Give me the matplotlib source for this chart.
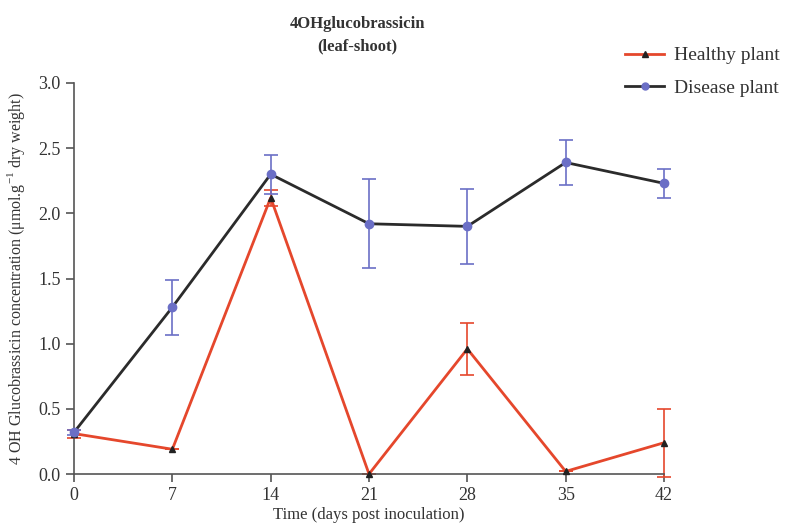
import matplotlib
matplotlib.use("Agg")
import matplotlib.pyplot as plt
from matplotlib.lines import Line2D

plt.rcParams['font.family'] = ['Liberation Serif', 'DejaVu Serif']

days = [0, 7, 14, 21, 28, 35, 42]
healthy = [0.31, 0.19, 2.12, 0.00, 0.96, 0.02, 0.24]
healthy_err = [0.03, 0.00, 0.06, 0.00, 0.20, 0.00, 0.26]
disease = [0.32, 1.28, 2.30, 1.92, 1.90, 2.39, 2.23]
disease_err = [0.02, 0.21, 0.15, 0.34, 0.29, 0.17, 0.11]

red = '#e5472c'
blue = '#6b6fc6'
dark = '#2b2b2b'
axis_col = '#555555'
text_col = '#333333'

fig = plt.figure(figsize=(8.03, 5.32), dpi=100)
ax = fig.add_axes([0.0922, 0.109, 0.7347, 0.735])

# Healthy plant: red line, dark triangle markers
ax.errorbar(days, healthy, yerr=healthy_err, fmt='none', ecolor=red,
            elinewidth=1.2, capsize=5, capthick=1.2, zorder=2)
ax.plot(days, healthy, color=red, lw=2.0, zorder=3)
ax.plot(days, healthy, ls='none', marker='^', ms=5, color='#222222', zorder=4)

# Disease plant: dark line, blue circle markers
ax.errorbar(days, disease, yerr=disease_err, fmt='none', ecolor=blue,
            elinewidth=1.2, capsize=5, capthick=1.2, zorder=2)
ax.plot(days, disease, color=dark, lw=2.0, zorder=3)
ax.plot(days, disease, ls='none', marker='o', ms=6, color=blue, zorder=4)

ax.set_xlim(0, 42)
ax.set_ylim(0, 3.0)
ax.set_xticks(days)
ax.set_yticks([0.0, 0.5, 1.0, 1.5, 2.0, 2.5, 3.0])
ax.set_yticklabels(['0.0', '0.5', '1.0', '1.5', '2.0', '2.5', '3.0'])
for a in ax.get_children():
    if hasattr(a, 'set_clip_on'):
        a.set_clip_on(False)

for side in ('top', 'right'):
    ax.spines[side].set_visible(False)
for side in ('left', 'bottom'):
    ax.spines[side].set_color(axis_col)
    ax.spines[side].set_linewidth(1.2)
ax.tick_params(axis='both', direction='out', length=6, width=1.2,
               color=axis_col, labelcolor=text_col, labelsize=13)

ax.set_xlabel('Time (days post inoculation)', fontsize=12, color=text_col, labelpad=2)
ax.set_ylabel(r'4 OH Glucobrassicin concentration ($\mathregular{\mu}$mol.g$^{\mathregular{-1}}$ dry weight)',
              fontsize=11.5, color=text_col, labelpad=8)

fig.text(0.445, 0.955, '4OHglucobrassicin', ha='center', va='center',
         fontsize=12, fontweight='bold', color=text_col)
fig.text(0.445, 0.912, '(leaf-shoot)', ha='center', va='center',
         fontsize=12, fontweight='bold', color=text_col)

handles = [
    Line2D([], [], color=red, lw=2, marker='^', ms=5, markerfacecolor='#222222',
           markeredgecolor='#222222'),
    Line2D([], [], color=dark, lw=2, marker='o', ms=5, markerfacecolor=blue,
           markeredgecolor=blue),
]
leg = fig.legend(handles, ['Healthy plant', 'Disease plant'], loc='upper left',
                 bbox_to_anchor=(0.757, 0.945), frameon=False, fontsize=14,
                 handlelength=2.0, labelspacing=0.75, handletextpad=0.5)
for t in leg.get_texts():
    t.set_color(text_col)

fig.savefig('out.png', dpi=100, facecolor='white')
